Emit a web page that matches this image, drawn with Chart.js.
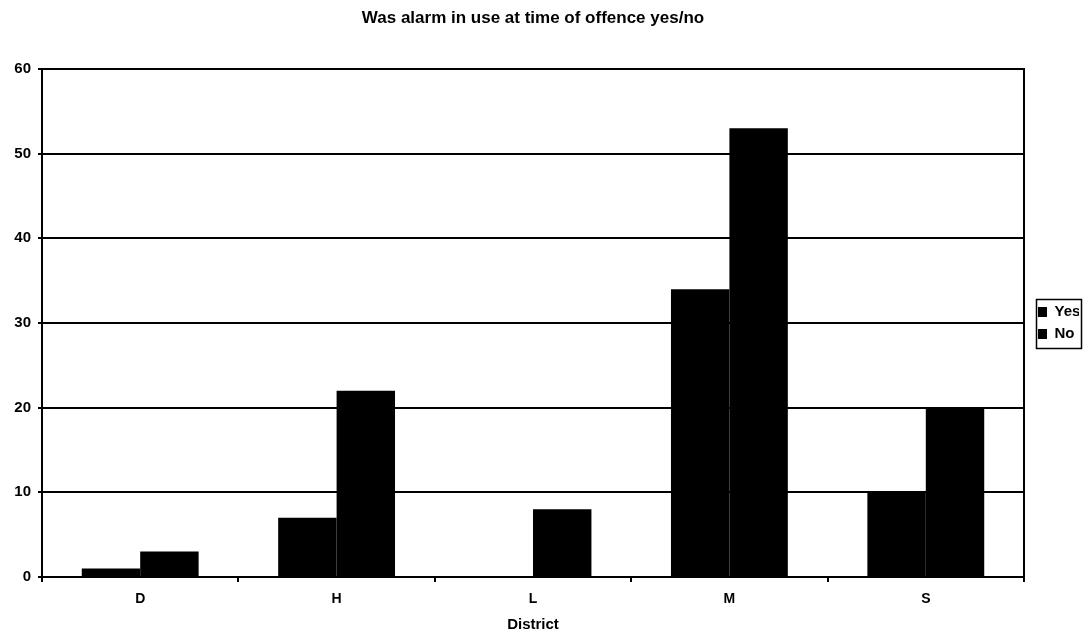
<!DOCTYPE html>
<html>
<head>
<meta charset="utf-8">
<title>Was alarm in use at time of offence yes/no</title>
<script src="https://cdn.jsdelivr.net/npm/chart.js@4.4.1/dist/chart.umd.min.js"></script>
<style>
  html, body { margin: 0; padding: 0; background: #ffffff; }
  #wrap { width: 1090px; height: 635px; }
</style>
</head>
<body>
<div id="wrap"><canvas id="alarmChart" width="1090" height="635"></canvas></div>
<script>
// Offences per district, split by whether an alarm was in use
const districts = ['D', 'H', 'L', 'M', 'S'];
const yesCounts = [1, 7, 0, 34, 10];
const noCounts = [3, 22, 8, 53, 20];
const seriesNames = ['Yes', 'No'];
const yTickValues = [0, 10, 20, 30, 40, 50, 60];

const FONT = "'Liberation Sans', Arial, sans-serif";
const INK = '#000000';

// Thin frame drawn round the legend entries
const legendFrame = {
  id: 'legendFrame',
  afterDraw(chart) {
    const lg = chart.legend;
    if (!lg || !lg.legendHitBoxes || !lg.legendHitBoxes.length) return;
    const hb = lg.legendHitBoxes;
    const l = Math.min(...hb.map(h => h.left)) - 2;
    const r = Math.max(...hb.map(h => h.left + h.width)) + 1;
    const t = Math.min(...hb.map(h => h.top)) - 6;
    const b = Math.max(...hb.map(h => h.top + h.height)) + 6;
    const ctx = chart.ctx;
    ctx.save();
    ctx.strokeStyle = INK;
    ctx.lineWidth = 1.5;
    ctx.strokeRect(Math.round(l) + 0.5, Math.round(t) + 0.5, Math.round(r - l), Math.round(b - t));
    ctx.restore();
  }
};

new Chart(document.getElementById('alarmChart'), {
  type: 'bar',
  data: {
    labels: districts,
    datasets: [
      { label: seriesNames[0], data: yesCounts, backgroundColor: INK, borderColor: INK, borderWidth: 0 },
      { label: seriesNames[1], data: noCounts, backgroundColor: INK, borderColor: INK, borderWidth: 0 }
    ]
  },
  options: {
    responsive: false,
    animation: false,
    devicePixelRatio: 1,
    categoryPercentage: 0.595,
    barPercentage: 1.0,
    layout: { padding: { left: 0, right: 11, top: 0, bottom: 0 } },
    plugins: {
      title: {
        display: true,
        text: 'Was alarm in use at time of offence yes/no',
        color: INK,
        fullSize: false,
        font: { family: FONT, size: 17, weight: 'bold' },
        padding: { top: 8, bottom: 40.6 }
      },
      legend: {
        display: true,
        position: 'right',
        fullSize: false,
        maxWidth: 48,
        labels: {
          color: INK,
          font: { family: FONT, size: 15, weight: 'bold' },
          boxWidth: 9,
          boxHeight: 10,
          padding: 7
        }
      },
      tooltip: { enabled: false }
    },
    scales: {
      x: {
        grid: {
          display: true,
          drawOnChartArea: false,
          drawTicks: true,
          tickLength: 5,
          color: INK,
          lineWidth: 2,
          offset: true
        },
        border: { display: true, color: INK, width: 2 },
        ticks: {
          color: INK,
          padding: 9,
          font: { family: FONT, size: 14, weight: 'bold' }
        },
        title: {
          display: true,
          text: 'District',
          color: INK,
          font: { family: FONT, size: 15, weight: 'bold' },
          padding: { top: 2, bottom: 1 }
        },
        afterFit(scale) { scale.height = 58; }
      },
      y: {
        min: 0,
        max: 60,
        afterBuildTicks(scale) { scale.ticks = yTickValues.map(v => ({ value: v })); },
        grid: {
          color: INK,
          lineWidth: 2,
          drawTicks: true,
          tickLength: 4
        },
        border: { display: true, color: INK, width: 2 },
        ticks: {
          color: INK,
          padding: 7,
          font: { family: FONT, size: 15, weight: 'bold' }
        },
        afterFit(scale) { scale.width = 42; }
      },
      frameRight: {
        type: 'linear',
        position: 'right',
        display: true,
        grid: { display: false },
        ticks: { display: false },
        border: { display: true, color: INK, width: 2 },
        afterFit(scale) { scale.width = 7; }
      }
    }
  },
  plugins: [legendFrame]
});
</script>
</body>
</html>
